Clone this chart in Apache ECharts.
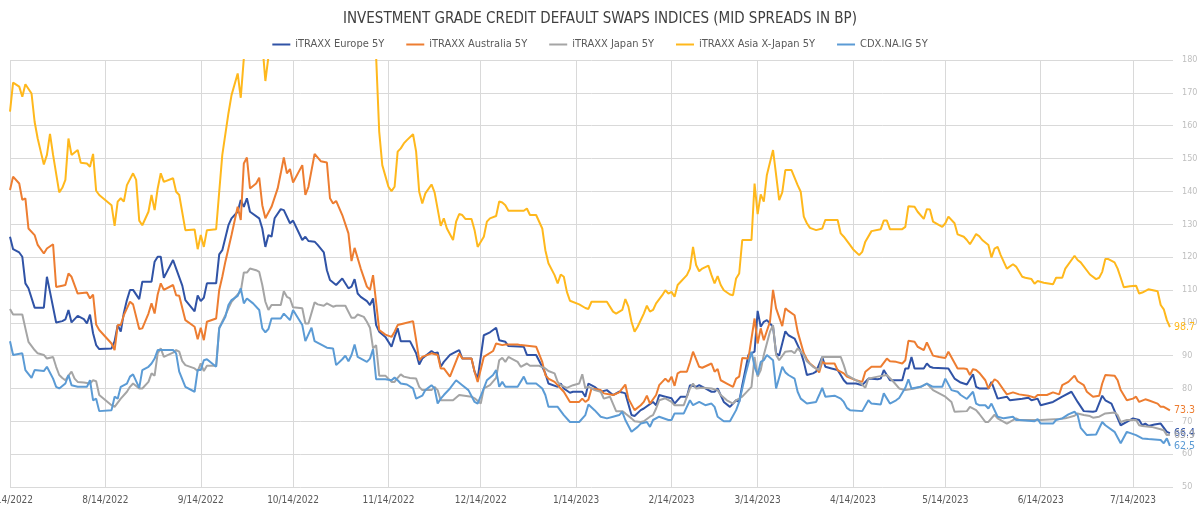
<!DOCTYPE html>
<html>
<head>
<meta charset="utf-8">
<title>Investment grade CDS indices</title>
<script src="https://cdn.jsdelivr.net/npm/echarts@6/dist/echarts.min.js"></script>
<style>
  html, body { margin: 0; padding: 0; background: #fff; }
  #chart { width: 1200px; height: 512px; }
</style>
</head>
<body>
<div id="chart"></div>
<script>
// [days since 14 Jul 2022, mid spread in bp]
const europe = [[0,126.2],[1,122.4],[3,121.4],[4,120.1],[5,112.0],[6,110.5],[8,104.6],[11,104.6],[12,114.0],[13,109.4],[15,100.1],[17,100.5],[18,101.0],[19,103.9],[20,100.1],[22,102.1],[24,101.1],[25,99.8],[26,102.5],[27,96.8],[28,93.2],[29,92.0],[33,92.2],[34,94.4],[35,99.3],[36,97.3],[37,103.0],[38,106.9],[39,110.0],[40,110.0],[42,107.2],[43,112.5],[46,112.5],[47,118.6],[48,120.1],[49,120.1],[50,113.7],[51,115.5],[53,119.1],[54,116.5],[56,111.3],[57,106.9],[60,103.5],[61,108.3],[62,106.6],[63,107.6],[64,112.0],[67,112.0],[68,120.8],[69,122.1],[71,129.7],[72,131.8],[74,133.8],[75,137.4],[76,135.3],[77,137.9],[78,133.8],[81,131.8],[82,128.7],[83,123.1],[84,126.7],[85,126.2],[86,131.8],[88,134.6],[89,134.3],[91,130.3],[92,131.1],[95,125.2],[96,126.2],[97,124.9],[99,124.7],[100,123.7],[102,121.4],[103,116.0],[104,113.0],[106,111.5],[107,112.5],[108,113.5],[110,110.5],[111,111.0],[112,113.3],[113,108.9],[114,107.9],[116,106.6],[117,105.4],[118,107.4],[119,99.3],[120,97.3],[122,95.7],[124,92.7],[125,95.7],[126,98.3],[127,94.4],[130,94.4],[132,90.7],[133,87.3],[134,89.1],[137,91.4],[138,90.7],[139,91.0],[140,86.6],[141,88.1],[143,90.2],[145,91.2],[146,91.7],[147,89.1],[150,89.1],[151,85.1],[152,83.0],[154,96.2],[156,97.1],[158,98.5],[159,94.7],[161,94.2],[162,92.9],[167,92.7],[168,90.2],[171,90.2],[173,86.6],[174,84.6],[175,81.5],[178,80.5],[179,81.5],[180,80.0],[182,78.7],[183,79.0],[186,79.0],[187,77.5],[188,81.5],[190,80.5],[192,79.0],[194,79.5],[196,78.0],[198,79.0],[199,78.8],[200,78.5],[202,71.9],[203,71.6],[205,73.4],[206,73.9],[209,75.9],[210,74.9],[211,78.0],[213,77.5],[215,77.0],[216,75.4],[218,77.5],[220,77.5],[221,81.0],[223,80.5],[224,81.0],[226,80.0],[228,79.0],[229,79.0],[230,80.0],[232,75.9],[234,74.4],[236,76.4],[237,75.9],[238,81.0],[240,90.2],[242,91.2],[243,103.6],[244,98.8],[245,100.3],[246,100.8],[248,98.8],[249,90.7],[250,90.0],[252,97.4],[253,96.2],[255,95.2],[257,91.2],[258,88.1],[259,84.1],[261,84.6],[262,85.1],[264,89.6],[265,86.6],[267,86.1],[269,85.6],[270,84.1],[271,82.5],[272,81.5],[275,81.5],[277,81.0],[279,83.0],[282,82.8],[283,83.0],[284,85.6],[286,82.5],[290,82.5],[291,86.1],[292,86.1],[293,89.6],[294,86.1],[297,86.1],[298,87.6],[299,86.6],[300,86.3],[305,86.1],[307,83.0],[309,81.8],[311,81.2],[313,84.3],[314,80.5],[315,80.0],[318,80.0],[319,82.0],[321,76.9],[324,77.5],[325,76.4],[329,76.9],[331,77.2],[332,76.4],[334,76.9],[335,74.9],[339,75.9],[342,77.5],[345,79.0],[347,75.9],[349,73.1],[352,72.9],[353,73.1],[355,77.8],[356,76.4],[358,75.4],[361,68.8],[363,69.8],[365,70.9],[367,70.4],[368,68.8],[369,69.3],[370,68.6],[372,69.0],[374,69.3],[376,66.8],[377,66.4]];

const australia = [[0,140.4],[1,144.5],[3,142.4],[4,137.4],[5,137.9],[6,128.7],[8,126.7],[9,123.7],[11,121.1],[12,122.6],[14,123.9],[15,110.9],[17,111.3],[18,111.5],[19,115.0],[20,114.0],[22,108.9],[25,109.2],[26,107.4],[27,108.6],[28,99.5],[29,97.8],[33,93.7],[34,91.7],[35,99.3],[36,99.3],[37,102.3],[38,104.4],[39,106.4],[40,105.6],[42,98.1],[43,98.3],[45,102.8],[46,105.9],[47,102.8],[48,108.6],[49,112.0],[50,110.0],[53,111.5],[54,108.4],[55,108.2],[57,100.8],[60,98.8],[61,95.0],[62,98.5],[63,94.7],[64,100.3],[67,101.3],[68,110.0],[69,114.0],[70,118.6],[72,126.7],[74,135.3],[75,131.3],[76,148.5],[77,150.3],[78,140.9],[80,142.4],[81,144.2],[82,135.8],[83,131.8],[85,135.3],[87,140.9],[88,145.5],[89,150.3],[90,145.5],[91,146.8],[92,142.7],[95,148.0],[96,138.9],[97,141.4],[99,151.4],[101,149.2],[103,148.8],[104,137.9],[105,136.3],[106,137.1],[108,132.8],[110,127.2],[111,118.8],[112,122.8],[114,116.5],[116,111.0],[117,110.0],[118,114.5],[120,97.8],[122,96.4],[124,95.7],[125,97.3],[126,99.3],[128,99.8],[131,100.5],[132,94.7],[133,88.6],[134,89.6],[137,90.7],[139,90.2],[140,86.1],[141,86.1],[143,83.6],[146,90.7],[147,89.1],[150,89.1],[151,85.1],[152,82.0],[154,89.6],[157,91.4],[158,93.7],[160,93.2],[161,93.4],[165,93.4],[166,93.2],[171,92.7],[173,88.1],[174,84.1],[175,83.0],[177,82.0],[178,81.0],[179,80.0],[180,79.0],[182,75.9],[185,75.9],[186,76.9],[187,75.9],[188,76.6],[189,80.0],[192,79.5],[193,78.5],[196,78.0],[198,78.8],[200,81.2],[201,76.9],[203,73.4],[205,74.9],[206,75.9],[207,77.8],[208,75.4],[210,78.0],[211,81.0],[213,83.0],[214,82.0],[215,83.6],[216,80.8],[217,84.6],[218,85.1],[220,85.1],[221,87.9],[222,91.2],[224,86.6],[225,86.3],[228,87.6],[229,85.1],[230,85.9],[231,82.5],[233,81.5],[235,80.5],[236,83.0],[237,83.6],[238,89.3],[240,89.1],[242,101.3],[243,93.7],[244,98.3],[245,94.7],[247,100.3],[248,110.0],[249,104.4],[251,99.0],[252,104.4],[253,103.6],[255,102.3],[256,97.3],[258,90.7],[259,88.9],[260,87.6],[262,86.1],[263,84.9],[264,88.1],[265,87.6],[268,87.6],[269,85.6],[271,84.6],[272,83.6],[275,82.5],[277,82.0],[278,85.1],[280,86.6],[283,86.6],[285,89.1],[286,88.3],[288,88.1],[290,87.6],[291,88.6],[292,94.5],[294,94.2],[295,92.7],[297,91.7],[298,94.0],[300,90.0],[302,89.6],[304,89.3],[305,91.2],[308,86.1],[310,86.1],[311,85.9],[312,84.1],[313,85.9],[314,85.6],[315,84.8],[317,82.5],[318,80.0],[320,82.8],[321,82.2],[323,79.5],[324,78.2],[326,78.8],[328,78.2],[331,77.8],[333,77.2],[334,78.0],[337,78.0],[339,78.8],[341,78.2],[342,81.0],[344,82.0],[346,83.9],[347,82.2],[349,81.0],[350,79.0],[352,77.5],[354,77.8],[355,81.5],[356,84.1],[359,83.9],[360,82.5],[361,79.5],[363,76.4],[365,76.9],[366,77.5],[367,75.9],[369,76.7],[370,76.4],[373,75.4],[374,74.4],[375,74.4],[377,73.3]];

const japan = [[0,104.2],[1,102.5],[4,102.5],[5,98.3],[6,94.2],[8,91.7],[9,90.7],[11,90.2],[12,89.1],[14,89.6],[15,86.6],[16,84.1],[17,83.2],[18,82.5],[19,83.9],[20,85.1],[21,83.0],[22,82.0],[24,81.8],[26,81.5],[27,82.5],[28,82.2],[29,78.0],[33,74.9],[34,74.4],[36,76.9],[38,79.0],[39,80.5],[40,81.5],[42,80.0],[43,80.0],[45,82.0],[46,84.6],[47,83.9],[48,90.7],[49,92.2],[50,89.6],[53,90.9],[54,91.7],[55,91.2],[56,88.3],[57,87.1],[60,86.1],[61,85.3],[62,87.6],[63,85.3],[64,86.9],[67,86.9],[68,98.5],[70,102.3],[71,104.4],[72,106.4],[74,108.6],[75,109.6],[76,115.3],[77,115.3],[78,116.5],[80,116.0],[81,115.5],[82,111.5],[83,106.4],[84,103.9],[85,105.4],[88,105.4],[89,109.6],[90,107.9],[91,107.4],[92,104.7],[95,104.4],[96,99.8],[97,99.8],[99,106.2],[100,105.6],[102,105.2],[103,105.9],[105,104.9],[106,105.2],[109,105.2],[111,101.5],[112,101.5],[113,102.5],[115,101.8],[116,100.3],[117,98.5],[118,92.2],[119,93.2],[120,83.9],[122,83.9],[124,82.0],[125,82.0],[126,83.2],[127,84.3],[128,83.6],[130,83.2],[132,83.0],[133,80.5],[134,79.5],[137,79.5],[138,80.5],[139,79.5],[140,76.4],[141,76.4],[144,76.4],[146,78.0],[150,77.5],[151,77.0],[153,75.4],[154,80.0],[156,81.0],[158,83.2],[159,88.6],[160,89.3],[161,88.1],[162,89.6],[163,89.1],[165,88.1],[166,86.6],[168,87.6],[169,86.9],[172,86.9],[174,86.1],[175,85.3],[177,84.6],[178,82.0],[179,81.0],[181,80.2],[183,81.0],[185,81.5],[186,84.3],[187,80.0],[188,80.6],[190,79.5],[192,79.0],[193,76.9],[195,77.5],[197,73.1],[199,73.1],[200,72.4],[202,70.9],[203,70.0],[205,69.8],[206,70.0],[208,71.4],[209,71.9],[210,73.9],[211,76.4],[213,77.0],[215,75.9],[216,74.9],[219,74.9],[221,80.0],[222,81.5],[223,80.0],[225,80.2],[228,80.0],[230,79.5],[231,78.0],[233,76.4],[235,75.4],[236,76.4],[238,77.5],[241,80.5],[242,89.6],[243,83.6],[244,85.6],[245,90.2],[247,97.3],[248,99.3],[249,90.2],[250,88.6],[252,91.2],[254,91.4],[255,90.7],[256,92.2],[258,90.2],[259,88.3],[261,86.6],[263,85.6],[264,89.6],[270,89.6],[271,87.1],[272,84.1],[274,83.0],[276,82.0],[278,80.2],[279,83.0],[282,83.6],[285,84.1],[287,82.2],[289,80.0],[291,79.5],[294,80.0],[296,80.5],[298,81.5],[300,79.5],[302,78.5],[304,77.5],[306,75.9],[307,72.9],[311,73.1],[312,74.4],[314,73.4],[315,72.3],[317,69.8],[318,69.8],[320,72.0],[321,70.9],[324,69.3],[327,70.9],[328,70.4],[330,70.4],[335,70.4],[341,70.7],[343,70.9],[346,71.7],[347,72.4],[349,71.9],[351,71.6],[352,71.1],[354,71.4],[356,72.4],[359,72.7],[360,71.9],[361,69.8],[363,70.4],[366,70.4],[367,68.8],[368,68.6],[371,68.3],[374,67.6],[375,67.3],[376,65.8],[377,65.9]];

const asiaExJapan = [[0,164.3],[1,173.1],[3,171.9],[4,168.8],[5,172.6],[7,169.8],[8,161.2],[9,156.1],[10,152.1],[11,148.2],[12,151.1],[13,157.5],[14,151.1],[16,139.7],[17,141.1],[18,143.5],[19,156.1],[20,151.1],[22,152.6],[23,148.7],[25,148.5],[26,147.5],[27,151.4],[28,140.2],[29,138.9],[33,135.8],[34,129.5],[35,136.9],[36,137.9],[37,136.9],[38,141.9],[40,145.5],[41,143.5],[42,131.1],[43,129.7],[45,133.8],[46,138.9],[47,134.3],[48,140.9],[49,145.5],[50,142.9],[53,144.0],[54,139.9],[55,138.9],[57,128.2],[60,128.4],[61,122.4],[62,126.7],[63,123.1],[64,128.2],[67,128.5],[68,139.9],[69,151.1],[71,163.8],[72,169.3],[74,175.9],[75,168.5],[76,180.5],[78,186],[80,190],[82,185],[83,173.6],[84,181],[86,188],[90,193],[95,190],[100,195],[105,190],[110,192],[115,188],[118,185],[119,181],[120,158.2],[121,148.0],[123,141.4],[124,140.1],[125,141.4],[126,152.1],[127,153.1],[128,154.6],[129,155.6],[131,157.4],[132,152.1],[133,139.9],[134,136.3],[135,139.4],[137,142.1],[138,139.7],[140,129.5],[141,131.8],[142,128.7],[144,125.2],[145,130.8],[146,133.1],[147,132.8],[148,131.6],[150,131.6],[151,128.2],[152,123.1],[154,126.2],[155,130.8],[156,131.8],[158,132.5],[159,136.9],[160,136.6],[161,135.8],[162,134.1],[167,134.1],[168,134.8],[169,132.8],[171,132.8],[173,128.7],[174,122.1],[175,118.1],[177,114.5],[178,112.0],[179,114.7],[180,114.0],[181,109.4],[182,106.7],[185,105.6],[187,104.5],[188,104.2],[189,106.4],[194,106.4],[196,103.4],[197,102.8],[199,103.9],[200,107.2],[201,104.9],[202,100.3],[203,97.3],[204,98.8],[206,102.8],[207,105.2],[208,103.4],[209,103.9],[210,105.9],[212,108.4],[213,109.9],[214,108.9],[215,109.4],[216,107.9],[217,111.5],[220,114.5],[221,116.5],[222,123.1],[223,117.6],[224,115.7],[225,116.5],[227,117.4],[228,114.5],[229,112.0],[230,114.2],[231,111.5],[232,109.9],[234,108.6],[235,108.4],[236,113.5],[237,115.0],[238,125.2],[241,125.2],[242,142.4],[243,133.1],[244,139.1],[245,136.9],[246,145.0],[248,152.6],[249,145.0],[250,137.3],[251,139.7],[252,146.5],[254,146.5],[256,141.9],[257,139.9],[258,132.3],[259,130.3],[260,128.9],[262,128.2],[264,128.7],[265,131.3],[269,131.3],[270,127.2],[271,126.2],[273,123.7],[274,122.4],[276,120.6],[277,121.6],[278,124.7],[280,127.9],[283,128.5],[284,131.1],[285,131.1],[286,128.5],[290,128.5],[291,129.2],[292,135.5],[294,135.3],[295,133.8],[297,131.6],[298,134.6],[299,134.5],[300,130.8],[302,129.7],[303,129.2],[304,130.3],[305,132.3],[307,130.3],[308,126.9],[310,126.2],[311,125.2],[312,123.9],[313,125.4],[314,127.0],[315,126.4],[316,125.2],[318,123.7],[319,119.9],[320,122.6],[321,123.1],[322,120.6],[324,116.5],[326,117.8],[327,117.1],[329,114.0],[330,113.7],[332,113.3],[333,111.9],[334,112.7],[336,112.2],[339,111.7],[340,113.7],[342,113.7],[343,116.5],[346,120.4],[347,119.1],[348,118.4],[351,114.7],[353,113.3],[354,113.7],[355,115.5],[356,119.4],[357,119.4],[359,118.4],[360,116.5],[361,113.7],[362,110.8],[364,111.1],[366,111.3],[367,108.9],[368,109.2],[370,110.2],[373,109.6],[374,105.4],[375,104.1],[376,100.8],[377,98.7]];

const cdxIg = [[0,94.4],[1,90.2],[4,90.7],[5,85.6],[7,83.2],[8,85.6],[11,85.3],[12,86.6],[14,83.0],[15,80.5],[16,80.0],[18,81.5],[19,84.1],[20,81.0],[22,80.5],[25,80.5],[26,82.5],[27,76.4],[28,76.9],[29,73.1],[33,73.4],[34,77.5],[35,76.9],[36,80.5],[38,81.5],[39,83.6],[40,84.3],[42,80.2],[43,85.6],[45,86.6],[46,87.6],[47,89.1],[48,91.7],[50,91.7],[53,91.7],[54,90.7],[55,85.1],[57,80.5],[60,79.0],[61,85.6],[62,85.6],[63,88.6],[64,88.9],[67,86.6],[68,98.3],[70,101.8],[71,105.4],[72,106.9],[74,108.2],[75,110.5],[76,105.9],[77,107.4],[79,105.9],[81,103.9],[82,98.3],[83,97.1],[84,98.1],[85,101.3],[88,101.3],[89,102.8],[91,100.8],[92,103.9],[95,99.3],[96,94.4],[98,98.5],[99,94.4],[101,93.4],[103,92.4],[105,92.2],[106,87.1],[108,88.9],[109,90.0],[110,88.3],[111,90.2],[112,93.4],[113,89.6],[116,88.1],[117,89.1],[118,92.0],[119,82.8],[122,82.8],[124,82.5],[125,83.3],[126,82.5],[127,81.5],[129,81.2],[131,80.0],[132,76.9],[134,77.8],[135,79.5],[137,81.0],[138,80.0],[139,75.4],[140,76.9],[141,78.0],[143,80.0],[145,82.5],[147,81.0],[149,79.5],[151,75.9],[152,75.4],[154,80.0],[155,82.5],[157,84.1],[158,85.6],[159,80.5],[160,82.0],[161,80.5],[165,80.5],[167,83.6],[168,81.5],[171,81.5],[173,80.0],[174,78.0],[175,74.4],[178,74.4],[180,71.9],[182,69.8],[185,69.8],[187,71.9],[188,75.1],[190,73.4],[192,71.4],[194,70.9],[196,71.4],[198,71.9],[199,72.9],[200,70.4],[202,66.8],[204,68.3],[205,69.3],[207,69.8],[208,68.3],[209,70.4],[211,71.4],[214,70.4],[215,70.4],[216,72.4],[219,72.4],[221,76.4],[222,74.9],[224,75.9],[226,74.9],[228,75.4],[229,74.4],[230,71.4],[232,70.0],[234,70.0],[236,73.4],[237,75.9],[238,80.0],[239,84.1],[241,91.2],[242,86.6],[243,84.1],[244,88.1],[245,88.6],[246,90.2],[248,88.6],[249,80.0],[251,86.6],[252,84.9],[253,84.1],[255,83.0],[256,79.0],[257,76.9],[259,75.4],[262,75.9],[263,78.0],[264,80.2],[265,77.5],[268,77.8],[270,76.9],[271,75.9],[272,74.1],[273,73.4],[277,73.1],[279,76.4],[280,75.4],[283,75.1],[284,78.5],[286,75.4],[288,76.4],[289,77.1],[291,80.2],[292,82.8],[293,80.0],[296,80.5],[298,81.5],[300,80.5],[303,80.5],[304,83.0],[306,79.5],[308,79.0],[309,78.0],[311,76.8],[313,79.0],[314,75.4],[315,74.9],[317,74.9],[318,73.9],[319,75.4],[321,71.4],[323,70.9],[326,71.4],[327,70.4],[328,70.4],[333,70.0],[334,70.7],[335,69.3],[339,69.3],[340,70.4],[342,70.9],[344,72.1],[346,72.9],[347,71.9],[348,68.0],[350,65.8],[353,66.0],[355,69.8],[356,68.8],[359,66.8],[361,63.3],[363,66.8],[366,65.8],[368,64.8],[370,64.6],[374,64.3],[375,63.3],[376,64.8],[377,62.5]];

const seriesNames = ['iTRAXX Europe 5Y', 'iTRAXX Australia 5Y', 'iTRAXX Japan 5Y', 'iTRAXX Asia X-Japan 5Y', 'CDX.NA.IG 5Y'];
const seriesColors = ['#3053a6', '#ed7d31', '#a5a5a5', '#ffb81c', '#5b9bd5'];
const seriesData = [europe, australia, japan, asiaExJapan, cdxIg];

// x tick labels: the 14th of each month
const tickMonths = [[2022, 7], [2022, 8], [2022, 9], [2022, 10], [2022, 11], [2022, 12],
  [2023, 1], [2023, 2], [2023, 3], [2023, 4], [2023, 5], [2023, 6], [2023, 7]];
const tickDay = 14;
const lastDay = 378;

const FONT = "'Liberation Sans Narrow', 'DejaVu Sans Condensed', Roboto, sans-serif";

const DAY = 86400000;
const startUtc = Date.UTC(2022, 6, 14);
const tickDays = tickMonths.map(([y, m]) => Math.round((Date.UTC(y, m - 1, tickDay) - startUtc) / DAY));

const dayLabel = (d) => {
  const dt = new Date(startUtc + Math.round(d) * DAY);
  return (dt.getUTCMonth() + 1) + '/' + dt.getUTCDate() + '/' + dt.getUTCFullYear();
};

const buildOption = () => ({
  backgroundColor: '#fff',
  animation: false,
  title: {
    text: 'INVESTMENT GRADE CREDIT DEFAULT SWAPS INDICES (MID SPREADS IN BP)',
    left: 'center',
    top: 7,
    textStyle: { fontFamily: FONT, fontSize: 15, fontWeight: 'normal', color: '#404040' },
  },
  legend: {
    top: 34,
    left: 'center',
    icon: 'rect',
    itemWidth: 18,
    itemHeight: 2,
    itemGap: 22,
    textStyle: { fontFamily: FONT, fontSize: 11, color: '#595959' },
    data: seriesNames,
  },
  grid: { left: 10, right: 27, top: 60, bottom: 25, containLabel: false, outerBoundsMode: 'none' },
  xAxis: {
    type: 'value',
    min: 0,
    max: lastDay,
    axisLine: { show: false },
    axisTick: { show: false, customValues: tickDays },
    splitLine: { show: true, lineStyle: { color: '#d9d9d9', width: 1 } },
    axisLabel: {
      customValues: tickDays,
      fontFamily: FONT,
      fontSize: 10,
      color: '#595959',
      margin: 8,
      formatter: dayLabel,
    },
  },
  yAxis: {
    type: 'value',
    position: 'right',
    min: 50,
    max: 180,
    interval: 10,
    axisLine: { show: false },
    axisTick: { show: false },
    splitLine: { lineStyle: { color: '#d9d9d9', width: 1 } },
    axisLabel: { fontFamily: FONT, fontSize: 9, color: '#bfbfbf', margin: 9 },
  },
  series: seriesNames.map((name, i) => ({
    name,
    type: 'line',
    data: seriesData[i],
    showSymbol: false,
    symbol: 'none',
    clip: true,
    lineStyle: { width: 2, color: seriesColors[i] },
    itemStyle: { color: seriesColors[i] },
    endLabel: {
      show: true,
      distance: 4,
      fontFamily: FONT,
      fontSize: 10.5,
      color: seriesColors[i],
      formatter: (p) => p.value[1].toFixed(1),
    },
    z: 2 + i,
  })),
});

const chart = echarts.init(document.getElementById('chart'), null, { renderer: 'canvas' });
chart.setOption(buildOption());
</script>
</body>
</html>
